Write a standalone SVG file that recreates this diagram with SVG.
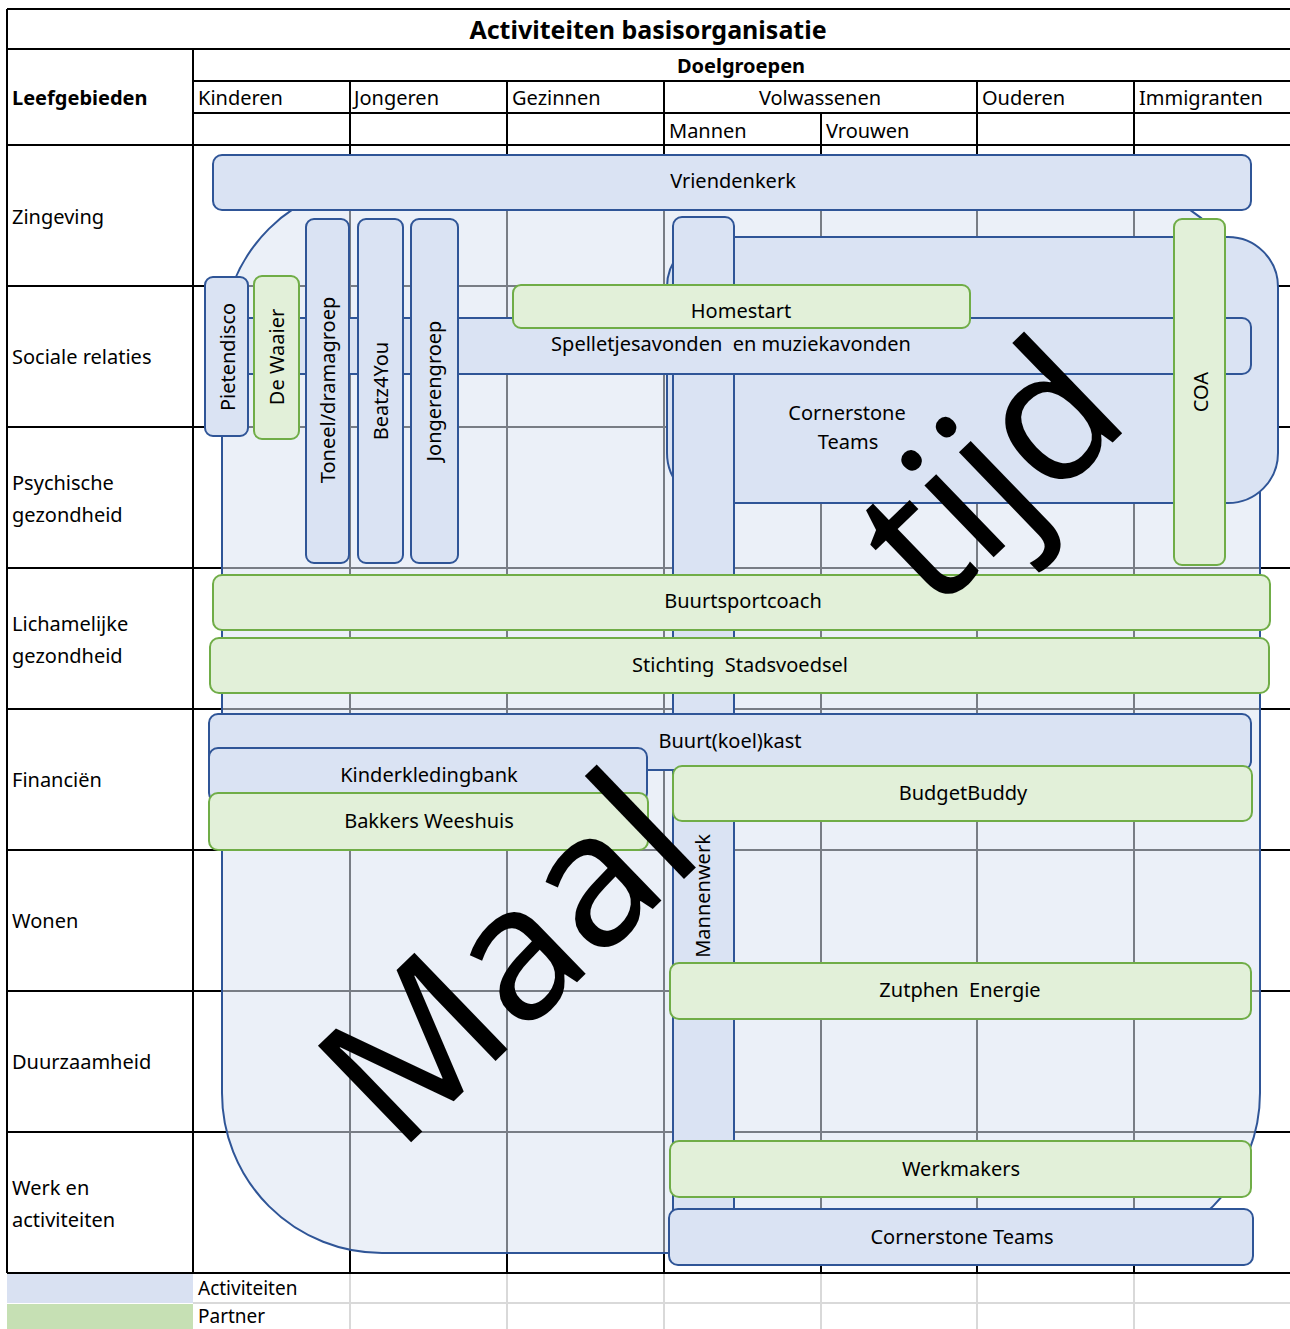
<svg xmlns="http://www.w3.org/2000/svg" width="1290" height="1329" viewBox="0 0 1290 1329">
<style>
.t{font-family:"Noto Sans","DejaVu Sans",sans-serif;font-size:20px;fill:#000}
.b{font-weight:bold}
.c{text-anchor:middle}
.s{font-size:19px}
.act{fill:#dae3f3;stroke:#2f5597;stroke-width:2}
.par{fill:#e2f0d9;stroke:#70ad47;stroke-width:2}
.grid line{stroke:#000;stroke-width:2}
.lg line{stroke:#d9d9d9;stroke-width:2}
.wm{font-family:"Noto Sans","DejaVu Sans",sans-serif;fill:#000}
</style>
<rect x="0" y="0" width="1290" height="1329" fill="#fff"/>
<g id="legend-grid" class="lg">
<line x1="193" y1="1303" x2="1290" y2="1303"/>
<line x1="350" y1="1273" x2="350" y2="1329"/>
<line x1="507" y1="1273" x2="507" y2="1329"/>
<line x1="664" y1="1273" x2="664" y2="1329"/>
<line x1="821" y1="1273" x2="821" y2="1329"/>
<line x1="977" y1="1273" x2="977" y2="1329"/>
<line x1="1134" y1="1273" x2="1134" y2="1329"/>
</g>
<g id="grid" class="grid">
<line x1="7" y1="9" x2="1290" y2="9"/>
<line x1="7" y1="49" x2="1290" y2="49"/>
<line x1="193" y1="81" x2="1290" y2="81"/>
<line x1="193" y1="113" x2="1290" y2="113"/>
<line x1="7" y1="145" x2="1290" y2="145"/>
<line x1="7" y1="286" x2="1290" y2="286"/>
<line x1="7" y1="427" x2="1290" y2="427"/>
<line x1="7" y1="568" x2="1290" y2="568"/>
<line x1="7" y1="709" x2="1290" y2="709"/>
<line x1="7" y1="850" x2="1290" y2="850"/>
<line x1="7" y1="991" x2="1290" y2="991"/>
<line x1="7" y1="1132" x2="1290" y2="1132"/>
<line x1="7" y1="1273" x2="1290" y2="1273"/>
<line x1="7" y1="9" x2="7" y2="1273"/>
<line x1="193" y1="49" x2="193" y2="1273"/>
<line x1="350" y1="81" x2="350" y2="1273"/>
<line x1="507" y1="81" x2="507" y2="1273"/>
<line x1="664" y1="81" x2="664" y2="1273"/>
<line x1="821" y1="113" x2="821" y2="1273"/>
<line x1="977" y1="81" x2="977" y2="1273"/>
<line x1="1134" y1="81" x2="1134" y2="1273"/>
</g>
<g id="headers">
<text class="t b c" x="648" y="39" style="font-size:25px">Activiteiten basisorganisatie</text>
<text class="t b c" x="741" y="73">Doelgroepen</text>
<text class="t b" x="12" y="105">Leefgebieden</text>
<text class="t" x="198" y="105">Kinderen</text>
<text class="t" x="354" y="105">Jongeren</text>
<text class="t" x="512" y="105">Gezinnen</text>
<text class="t c" x="820" y="105">Volwassenen</text>
<text class="t" x="982" y="105">Ouderen</text>
<text class="t" x="1139" y="105">Immigranten</text>
<text class="t" x="669" y="138">Mannen</text>
<text class="t" x="826" y="138">Vrouwen</text>
<text class="t" x="12" y="224">Zingeving</text>
<text class="t" x="12" y="364">Sociale relaties</text>
<text class="t" x="12" y="490">Psychische</text>
<text class="t" x="12" y="522">gezondheid</text>
<text class="t" x="12" y="631">Lichamelijke</text>
<text class="t" x="12" y="663">gezondheid</text>
<text class="t" x="12" y="787">Financiën</text>
<text class="t" x="12" y="928">Wonen</text>
<text class="t" x="12" y="1069">Duurzaamheid</text>
<text class="t" x="12" y="1195">Werk en</text>
<text class="t" x="12" y="1227">activiteiten</text>
</g>
<g id="legend">
<rect x="7" y="1274" width="186" height="29" fill="#d9e1f2"/>
<rect x="7" y="1304" width="186" height="25" fill="#c6e0b4"/>
<text class="t s" x="198" y="1295">Activiteiten</text>
<text class="t s" x="198" y="1323">Partner</text>
</g>
<g id="basis-area">
<rect x="222" y="182" width="1038" height="1071" rx="160" fill="#dae3f3" fill-opacity="0.55" stroke="#2f5597" stroke-width="2"/>
</g>
<g id="vriendenkerk">
<rect class="act" x="213" y="155" width="1038" height="55" rx="9"/>
<text class="t c" x="733" y="188">Vriendenkerk</text>
</g>
<g id="cornerstone-teams-1">
<rect class="act" x="667" y="237" width="611" height="266" rx="50"/>
<text class="t c" x="847" y="420">Cornerstone</text>
<text class="t c" x="848" y="449">Teams</text>
</g>
<g id="mannenwerk">
<rect class="act" x="673" y="217" width="61" height="1048" rx="9"/>
<text class="t c" transform="translate(710,896) rotate(-90)">Mannenwerk</text>
</g>
<g id="spelletjesavonden">
<rect class="act" x="215" y="318" width="1036" height="56" rx="9"/>
<text class="t c" x="731" y="351" xml:space="preserve">Spelletjesavonden  en muziekavonden</text>
</g>
<g id="homestart">
<rect class="par" x="513" y="285" width="457" height="43" rx="8"/>
<text class="t c" x="741" y="318">Homestart</text>
</g>
<g id="pietendisco">
<rect class="act" x="205" y="277" width="43" height="159" rx="8"/>
<text class="t c" transform="translate(235,357) rotate(-90)">Pietendisco</text>
</g>
<g id="de-waaier">
<rect class="par" x="254" y="276" width="45" height="163" rx="8"/>
<text class="t c" transform="translate(284,357) rotate(-90)">De Waaier</text>
</g>
<g id="toneel">
<rect class="act" x="306" y="219" width="43" height="344" rx="8"/>
<text class="t c" transform="translate(335,390) rotate(-90)">Toneel/dramagroep</text>
</g>
<g id="beatz4you">
<rect class="act" x="358" y="219" width="45" height="344" rx="8"/>
<text class="t c" transform="translate(388,391) rotate(-90)">Beatz4You</text>
</g>
<g id="jongerengroep">
<rect class="act" x="411" y="219" width="47" height="344" rx="8"/>
<text class="t c" transform="translate(441,391) rotate(-90)">Jongerengroep</text>
</g>
<g id="coa">
<rect class="par" x="1174" y="219" width="51" height="346" rx="8"/>
<text class="t c" transform="translate(1208,392) rotate(-90)">COA</text>
</g>
<g id="buurtsportcoach">
<rect class="par" x="213" y="575" width="1057" height="55" rx="9"/>
<text class="t c" x="743" y="608">Buurtsportcoach</text>
</g>
<g id="stadsvoedsel">
<rect class="par" x="210" y="638" width="1059" height="55" rx="9"/>
<text class="t c" x="740" y="672" xml:space="preserve">Stichting  Stadsvoedsel</text>
</g>
<g id="buurtkoelkast">
<rect class="act" x="209" y="714" width="1042" height="56" rx="9"/>
<text class="t c" x="730" y="748">Buurt(koel)kast</text>
</g>
<g id="kinderkledingbank">
<rect class="act" x="209" y="748" width="438" height="54" rx="9"/>
<text class="t c" x="429" y="782">Kinderkledingbank</text>
</g>
<g id="bakkers-weeshuis">
<rect class="par" x="209" y="793" width="439" height="57" rx="9"/>
<text class="t c" x="429" y="828">Bakkers Weeshuis</text>
</g>
<g id="budgetbuddy">
<rect class="par" x="673" y="766" width="579" height="55" rx="9"/>
<text class="t c" x="963" y="800">BudgetBuddy</text>
</g>
<g id="zutphen-energie">
<rect class="par" x="670" y="963" width="581" height="56" rx="9"/>
<text class="t c" x="960" y="997" xml:space="preserve">Zutphen  Energie</text>
</g>
<g id="werkmakers">
<rect class="par" x="670" y="1141" width="581" height="56" rx="9"/>
<text class="t c" x="961" y="1176">Werkmakers</text>
</g>
<g id="cornerstone-teams-2">
<rect class="act" x="669" y="1209" width="584" height="56" rx="9"/>
<text class="t c" x="962" y="1244">Cornerstone Teams</text>
</g>
<g id="watermark">
<text class="wm" style="font-size:188px" transform="translate(398,1155) rotate(-44)">Maal</text>
<text class="wm" style="font-size:186px" transform="translate(934,615) rotate(-44)">tijd</text>
</g>
</svg>
